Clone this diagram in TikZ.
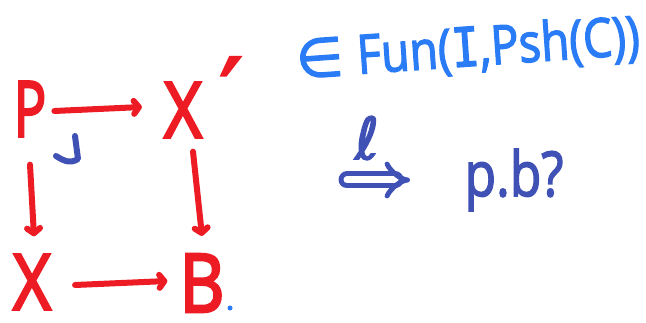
\documentclass[tikz,border=0pt]{standalone}
\usepackage{fontspec}
\setmainfont{Open Sans}[FakeBold=2.5]
\newfontfamily\pen{Open Sans}[FakeBold=3.5]
\newfontfamily\dejavu{DejaVu Sans}[FakeBold=2.5]
\newfontfamily\dejavumono{DejaVu Sans Mono}[FakeBold=2.5]
\usetikzlibrary{arrows.meta}
\definecolor{penred}{HTML}{ED1C24}
\definecolor{penblue}{HTML}{2A7BF6}
\definecolor{inkblue}{HTML}{3F51B5}
\begin{document}
\begin{tikzpicture}[x=1pt,y=-1pt,
  obj/.style={text=penred, font=\pen\fontsize{77}{77}\selectfont, inner sep=0pt},
  arr/.style={draw=penred, line width=6pt, line cap=round, line join=round,
    -{Straight Barb[length=5pt,width=13pt,round]}},
  stroke/.style={line width=6pt, line cap=round, line join=round}]
\fill[white] (0,0) rectangle (646,323);
\useasboundingbox (0,0) rectangle (646,323);
% objects
\node[obj] (P) at (30,109) {\scalebox{0.7}[1]{P}};
\node[obj] (Xp) at (183,110) {\scalebox{0.85}[1]{X}};
\node[obj] (X) at (32,282) {\scalebox{0.85}[1]{X}};
\node[obj] (B) at (202,283) {\scalebox{0.9}[1.05]{B}};
\node[obj, anchor=north, font=\dejavu\fontsize{100}{100}\selectfont] (prime) at (231,57) {′};
\fill[penblue] (230,308) circle (2.5pt);
% arrows
\draw[arr] ([xshift=8pt,yshift=-2pt]P.east) -- ([xshift=-22pt,yshift=3pt]Xp.west);
\draw[arr] ([yshift=-28pt]P.south) -- ([yshift=18pt,xshift=2pt]X.north);
\draw[arr] ([yshift=-14pt,xshift=10pt]Xp.south) -- ([yshift=18pt]B.north);
\draw[arr] ([xshift=24pt,yshift=-3pt]X.east) -- ([xshift=-12pt,yshift=2pt]B.west);
% pullback corner
\draw[inkblue, stroke] (75,136) -- (78,159) .. controls (70,164) and (64,161) .. (56,156);
% right side
\node[text=penblue, font=\fontsize{54}{54}\selectfont, rotate=4] (fam) at (468,50)
  {{\dejavu ∈} \scalebox{0.86}[1]{Fun({\dejavumono I},Psh(C))}};
\node[text=inkblue, font=\dejavu\fontsize{58}{58}\selectfont, inner sep=0pt] (ell) at (367,138) {ℓ};
\coordinate (a1) at (347,180);
\coordinate (a2) at (410,180);
\draw[inkblue, double=white, double distance=7pt, line width=5pt, line cap=round,
  -{Implies[round]}] (a1) -- (a2);
\node[text=inkblue, font=\fontsize{62}{62}\selectfont, inner sep=0pt] (pb) at (514,180)
  {\scalebox{0.83}[1]{p.b?}};
\end{tikzpicture}
\end{document}
